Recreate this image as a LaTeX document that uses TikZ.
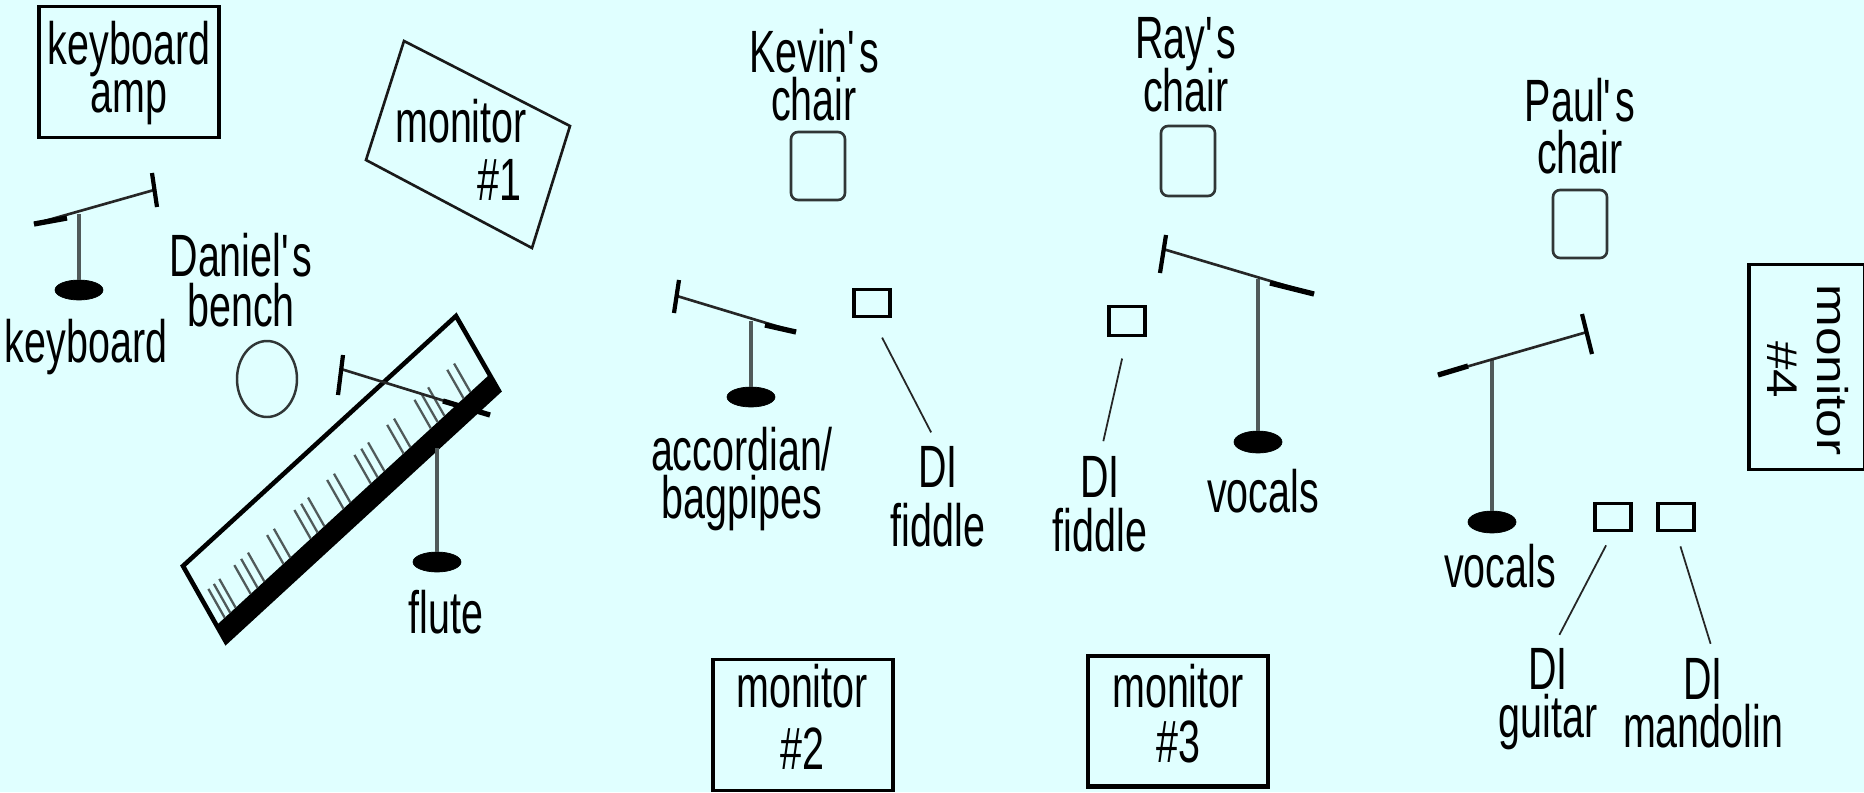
\documentclass[tikz,border=0pt]{standalone}
\usepackage{fontspec}
\setmainfont[FakeStretch=0.66]{Liberation Sans}
\usepackage{tikz}
\usetikzlibrary{calc,shapes.geometric}
\definecolor{stagecyan}{HTML}{E0FFFF}
\definecolor{stemgray}{HTML}{505A5A}
\newcommand{\stagefont}{\fontsize{34}{27}\selectfont\setlength{\lineskiplimit}{-100pt}}

\begin{document}
\begin{tikzpicture}[x=0.02cm, y=-0.02cm,
        every node/.style={font=\stagefont, align=center, inner sep=0pt},
        labeltext/.style={anchor=base},
        bigbox/.style={draw, rectangle, line width=1.9pt, minimum width=3.6cm, minimum height=2.62cm},
        chairbox/.style={draw=stemgray!60!black, rectangle, rounded corners=4pt, line width=1.5pt, minimum width=1.08cm, minimum height=1.36cm},
        dibox/.style={draw, rectangle, line width=1.8pt, minimum width=0.72cm, minimum height=0.54cm},
        micbase/.style={draw, fill=black, ellipse, minimum width=0.96cm, minimum height=0.4cm},
        micstem/.style={draw=stemgray, line width=2pt},
        micboom/.style={draw=black!85, line width=1.5pt},
        micfat/.style={draw=black, line width=3pt},
        micbar/.style={draw=black, line width=2.4pt},
        dilead/.style={draw=black!85, line width=1pt, shorten <=0.44cm, shorten >=0.3cm},
        keyline/.style={draw=stemgray, line width=1.3pt}]

        \fill[stagecyan] (0,0) rectangle (1864,792);
        \useasboundingbox (0,0) rectangle (1864,792);

        % left side: keyboard player
        \node[bigbox] (kbdamp) at (129,72) {};
        \node[labeltext] (kbdamplabel) at (129,112) {keyboard\\amp};

        \coordinate (mona) at (404,41);
        \coordinate (monb) at (570,126);
        \coordinate (monc) at (532,248);
        \coordinate (mond) at (366,160);
        \draw[line width=1.5pt, draw=black!90] (mona) -- (monb) -- (monc) -- (mond) -- cycle;
        \node[labeltext, align=right] (monlabel1) at (461,200) {monitor\\[5.5pt]\#1\hspace*{0.1cm}};

        \node[micbase] (kbdbase) at (79,290) {};
        \coordinate (kbdtip) at (34,224);
        \coordinate (kbdfat) at (67,218);
        \coordinate (kbdjoint) at (79,214);
        \coordinate (kbdend) at (154,190);
        \draw[micstem] (kbdjoint) -- (kbdbase);
        \draw[micboom] (kbdtip) -- (kbdend);
        \draw[micfat] (kbdtip) -- (kbdfat);
        \draw[micbar] (152,173) -- (157,207);
        \node[labeltext] (kbdlabel) at (86,362) {keyboard};

        \node[labeltext] (benchlabel) at (241,326) {Daniel\textquotesingle s\\[1.4pt]bench};
        \node[draw=stemgray!60!black, line width=1.4pt, ellipse, minimum width=1.2cm, minimum height=1.52cm] (bench) at (267,379) {};

        \coordinate (kbl) at (183,566);
        \coordinate (kbt) at (456,316);
        \coordinate (kbr) at (499,391);
        \coordinate (kbb) at (226,642);
        \fill[black] ($(kbl)!0.78!(kbb)$) -- (kbb) -- (kbr) -- ($(kbt)!0.78!(kbr)$) -- cycle;
        \draw[line width=2.6pt, miter limit=2] (kbl) -- (kbt) -- (kbr) -- (kbb) -- cycle;
        \foreach \t in {0.03,0.05,0.07, 0.125,0.15,0.175, 0.245,0.27, 0.345,0.37,0.395, 0.465,0.49, 0.565,0.59,0.615, 0.685,0.71, 0.785,0.81,0.835, 0.905,0.93}{
            \coordinate (keytop) at ($(kbl)!\t!(kbt)$);
            \coordinate (keybot) at ($(kbb)!\t!(kbr)$);
            \draw[keyline] ($(keytop)!0.4!(keybot)$) -- ($(keytop)!0.78!(keybot)$);
        }

        \node[micbase] (flutebase) at (437,562) {};
        \coordinate (flutetip) at (490,415);
        \coordinate (flutefat) at (443,401);
        \coordinate (flutejoint) at (437,448);
        \coordinate (fluteend) at (341,369);
        \draw[micstem] (flutejoint) -- (flutebase);
        \draw[micboom] (flutetip) -- (fluteend);
        \draw[micfat] (flutetip) -- (flutefat);
        \draw[micbar] (343,355) -- (338,395);
        \node[labeltext] (flutelabel) at (446,633) {flute};

        % Kevin
        \node[labeltext] (kevinlabel) at (814,120) {Kevin\textquotesingle s\\chair};
        \node[chairbox] (kevinchair) at (818,166) {};
        \node[micbase] (accbase) at (751,397) {};
        \coordinate (acctip) at (796,332);
        \coordinate (accfat) at (765,325);
        \coordinate (accjoint) at (751,321);
        \coordinate (accend) at (677,296);
        \draw[micstem] (accjoint) -- (accbase);
        \draw[micboom] (acctip) -- (accend);
        \draw[micfat] (acctip) -- (accfat);
        \draw[micbar] (679,280) -- (674,313);
        \node[labeltext] (acclabel) at (742,518) {accordian/\\bagpipes};
        \node[dibox] (kevindi) at (872,303) {};
        \node[labeltext] (kevindilabel) at (938,546) {DI\\[6.5pt]fiddle};
        \draw[dilead] (kevindi.south) -- (kevindilabel.north);

        \node[bigbox] (monitortwo) at (803,725) {};
        \node[labeltext] (monlabel2) at (802,769) {monitor\\[8.2pt]\#2};

        % Ray
        \node[labeltext] (raylabel) at (1186,111) {Ray\textquotesingle s\\[3pt]chair};
        \node[chairbox, minimum height=1.4cm] (raychair) at (1188,161) {};
        \coordinate (raytip) at (1314,294);
        \coordinate (rayfat) at (1270,283);
        \coordinate (rayjoint) at (1258,279);
        \coordinate (rayend) at (1163,249);
        \node[micbase, minimum height=0.44cm] (raybase) at (1258,442) {};
        \draw[micstem] (rayjoint) -- (raybase);
        \draw[micboom] (raytip) -- (rayend);
        \draw[micfat] (raytip) -- (rayfat);
        \draw[micbar] (1166,235) -- (1160,273);
        \node[labeltext] (rayvocals) at (1263,512) {vocals};
        \node[dibox, minimum height=0.58cm] (raydi) at (1127,321) {};
        \node[labeltext] (raydilabel) at (1100,551) {DI\\[3.6pt]fiddle};
        \draw[dilead] (raydi.south) -- (raydilabel.north);

        \node[bigbox, line width=2.3pt] (monitorthree) at (1178,721) {};
        \node[labeltext] (monlabel3) at (1178,762) {monitor\\[4.2pt]\#3};

        % Paul
        \node[labeltext] (paullabel) at (1580,173) {Paul\textquotesingle s\\[2.5pt]chair};
        \node[chairbox] (paulchair) at (1580,224) {};
        \coordinate (paultip) at (1438,375);
        \coordinate (paulfat) at (1468,366);
        \coordinate (pauljoint) at (1492,359);
        \coordinate (paulend) at (1587,332);
        \node[micbase, minimum height=0.44cm] (paulbase) at (1492,522) {};
        \draw[micstem] (pauljoint) -- (paulbase);
        \draw[micboom] (paultip) -- (paulend);
        \draw[micfat] (paultip) -- (paulfat);
        \draw[micbar] (1582,314) -- (1592,354);
        \node[labeltext] (paulvocals) at (1500,587) {vocals};

        \node[dibox] (guitardi) at (1613,517) {};
        \node[dibox] (mandolindi) at (1676,517) {};
        \node[labeltext] (guitarlabel) at (1548,737) {DI\\guitar};
        \node[labeltext] (mandolinlabel) at (1703,747) {DI\\mandolin};
        \draw[dilead, shorten <=0.3cm] (guitardi.south) -- (guitarlabel.85);
        \draw[dilead, shorten <=0.3cm] (mandolindi.south) -- (mandolinlabel.75);

        \node[draw, rectangle, line width=1.9pt, minimum width=2.32cm, minimum height=4.1cm] (monitorfour) at (1807,367) {};
        \node[rotate=-90, xscale=1.3, yscale=0.72] (monfourlabel) at (1808,370) {monitor\\[12pt]\#4};
    \end{tikzpicture}
\end{document}
